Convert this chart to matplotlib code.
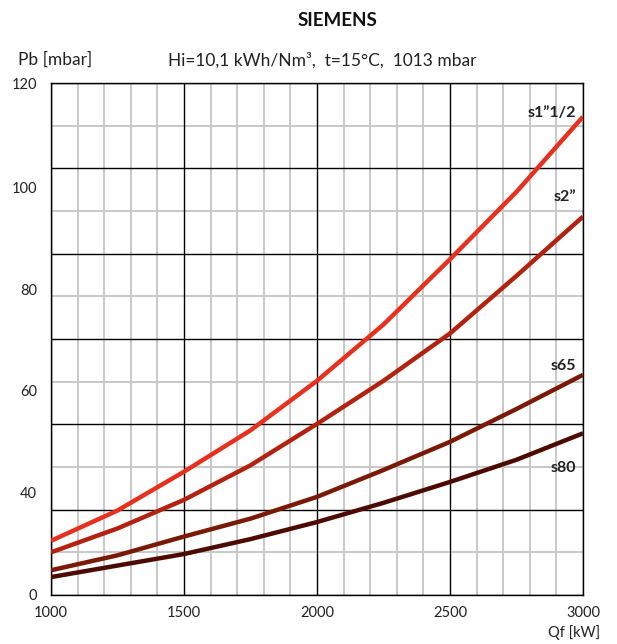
import matplotlib.pyplot as plt
import numpy as np

plt.rcParams['font.family'] = ['Lato', 'DejaVu Sans']

# DATA
qf = [1000, 1250, 1500, 1750, 2000, 2250, 2500, 2750, 3000]
s1_12 = [12.7, 19.8, 28.9, 38.6, 50.2, 63.4, 78.7, 94.5, 112.1]
s2 = [10.0, 15.6, 22.3, 30.4, 40.1, 50.2, 61.3, 74.8, 88.7]
s65 = [5.8, 9.3, 13.7, 17.9, 23.0, 29.3, 35.9, 43.6, 51.6]
s80 = [4.2, 6.9, 9.6, 13.1, 17.1, 21.6, 26.5, 31.7, 37.9]

series = [
    ("s1\u201d1/2", s1_12, "#e8301e", 113.0),
    ("s2\u201d", s2, "#b3220f", 93.3),
    ("s65", s65, "#7a1905", 53.7),
    ("s80", s80, "#4d0a02", 29.8),
]

# odd label positions on the original y axis
ytick_pos = [0, 24.1, 48.0, 71.5, 95.4, 120]
ytick_lab = ["0", "40", "60", "80", "100", "120"]
xtick_pos = [1000, 1500, 2000, 2500, 3000]

fig = plt.figure(figsize=(6.17, 6.44), dpi=100)
ax = fig.add_axes([0.0827, 0.0761, 0.8622, 0.795])

# grid
for x in np.arange(1000, 3001, 100):
    if x % 500 == 0:
        ax.axvline(x, color="black", lw=1.0, zorder=1)
    else:
        ax.axvline(x, color="#c8c8c8", lw=1.4, zorder=0)
for y in np.arange(0, 121, 10):
    if y % 20 == 0:
        ax.axhline(y, color="black", lw=1.0, zorder=1)
    else:
        ax.axhline(y, color="#c8c8c8", lw=1.4, zorder=0)

for name, vals, col, ly in series:
    ax.plot(qf, vals, color=col, lw=3.2, solid_capstyle="butt",
            solid_joinstyle="round", zorder=3)
    ax.text(2975, ly, name, ha="right", va="center", fontsize=11.5,
            fontweight="bold", color="#222222", zorder=4)

ax.set_xlim(1000, 3000)
ax.set_ylim(0, 120)
ax.set_xticks(xtick_pos)
ax.set_xticklabels([str(x) for x in xtick_pos])
ax.set_yticks(ytick_pos)
ax.set_yticklabels(ytick_lab)
ax.tick_params(length=0, labelsize=10.5, colors="#222222")
ax.tick_params(axis="x", pad=8)
ax.tick_params(axis="y", pad=10)
for sp in ax.spines.values():
    sp.set_color("black")
    sp.set_linewidth(1.0)

fig.text(337 / 617, 1 - 20 / 644, "SIEMENS", ha="center", va="center",
         fontsize=13.5, fontweight="bold", color="#111111")
fig.text(18 / 617, 1 - 60 / 644, "Pb [mbar]", ha="left", va="center",
         fontsize=12.5, color="#222222")
fig.text(168 / 617, 1 - 60 / 644,
         "Hi=10,1 kWh/Nm\u00b3,  t=15\u00b0C,  1013 mbar",
         ha="left", va="center", fontsize=12.5, color="#222222")
fig.text(600 / 617, 1 - 633 / 644, "Qf [kW]", ha="right", va="center",
         fontsize=10.5, color="#222222")

fig.savefig("out.png", dpi=100)
